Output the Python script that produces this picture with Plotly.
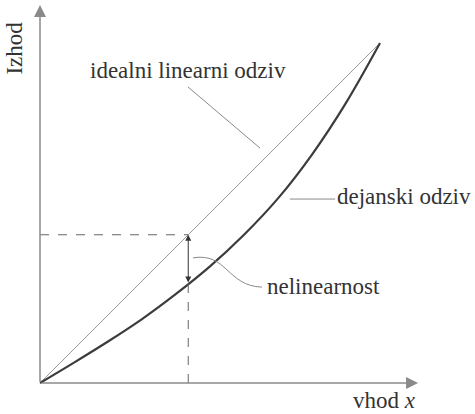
import plotly.graph_objects as go

# Normalised input / output (0..1 on both axes)
x_ideal = [0.0, 1.0]
y_ideal = [0.0, 1.0]

x_actual = [0.0, 0.1, 0.2, 0.3, 0.4, 0.5, 0.6, 0.7, 0.8, 0.9, 1.0]
y_actual = [0.0, 0.06, 0.122, 0.188, 0.262, 0.343, 0.436, 0.543, 0.672, 0.824, 1.0]

# Operating point where the non-linearity is shown
x_op = 0.436
y_op_ideal = 0.436
y_op_actual = 0.291

axis_end = 1.112

labels = {
    "ideal": "idealni linearni odziv",
    "actual": "dejanski odziv",
    "nonlin": "nelinearnost",
    "y": "Izhod",
    "x": "vhod <i>x</i>",
}

AXIS_COL = "#8a8a8a"
FONT = dict(family="Liberation Serif", size=23, color="#333333")

fig = go.Figure()

# ideal linear response
fig.add_trace(go.Scatter(x=x_ideal, y=y_ideal, mode="lines",
                         line=dict(color="#9a9a9a", width=1), hoverinfo="skip"))
# real (non-linear) response
fig.add_trace(go.Scatter(x=x_actual, y=y_actual, mode="lines",
                         line=dict(color="#3c3c3c", width=2.2, shape="spline", smoothing=1.0),
                         hoverinfo="skip"))

# dashed guide lines
fig.add_trace(go.Scatter(x=[0, x_op], y=[y_op_ideal, y_op_ideal], mode="lines",
                         line=dict(color="#666666", width=1, dash="dash"), hoverinfo="skip"))
fig.add_trace(go.Scatter(x=[x_op, x_op], y=[0, y_op_actual], mode="lines",
                         line=dict(color="#666666", width=1, dash="dash"), hoverinfo="skip"))

annotations = []
# axes with arrow heads
annotations.append(dict(x=axis_end, y=0, ax=0, ay=0, xref="x", yref="y", axref="x", ayref="y",
                        text="", showarrow=True, arrowhead=2, arrowsize=1.6, arrowwidth=1.5,
                        arrowcolor=AXIS_COL, standoff=0))
annotations.append(dict(x=0, y=axis_end, ax=0, ay=0, xref="x", yref="y", axref="x", ayref="y",
                        text="", showarrow=True, arrowhead=2, arrowsize=1.6, arrowwidth=1.5,
                        arrowcolor=AXIS_COL, standoff=0))
# double-headed arrow showing the deviation
annotations.append(dict(x=x_op, y=y_op_ideal, ax=x_op, ay=y_op_actual, xref="x", yref="y",
                        axref="x", ayref="y", text="", showarrow=True, arrowhead=2,
                        startarrowhead=2, arrowside="end+start", arrowsize=1.2, startarrowsize=1.2,
                        arrowwidth=1, arrowcolor="#333333", standoff=0, startstandoff=0))

# text labels
annotations += [
    dict(x=0.435, y=0.918, text=labels["ideal"], showarrow=False, xanchor="center", yanchor="middle", font=FONT),
    dict(x=0.868, y=0.548, text=labels["actual"], showarrow=False, xanchor="left", yanchor="middle", font=FONT),
    dict(x=0.662, y=0.285, text=labels["nonlin"], showarrow=False, xanchor="left", yanchor="middle", font=FONT),
    dict(x=-0.075, y=0.985, text=labels["y"], showarrow=False, xanchor="center", yanchor="middle",
         textangle=-90, font=FONT),
    dict(x=1.112, y=-0.05, text=labels["x"], showarrow=False, xanchor="right", yanchor="middle", font=FONT),
]

# leader lines from labels to curves
shapes = [
    dict(type="line", x0=0.435, y0=0.871, x1=0.647, y1=0.691, xref="x", yref="y",
         line=dict(color="#8a8a8a", width=1)),
    dict(type="line", x0=0.735, y0=0.541, x1=0.868, y1=0.541, xref="x", yref="y",
         line=dict(color="#8a8a8a", width=1)),
    dict(type="path", xref="x", yref="y",
         path="M 0.45 0.368 C 0.55 0.385, 0.55 0.285, 0.653 0.282",
         line=dict(color="#8a8a8a", width=1)),
]

fig.update_layout(
    width=475, height=414,
    margin=dict(l=0, r=0, t=0, b=0),
    paper_bgcolor="white", plot_bgcolor="white",
    showlegend=False,
    font=dict(family="Liberation Serif"),
    xaxis=dict(visible=False, range=[-40 / 340, 435 / 340], fixedrange=True),
    yaxis=dict(visible=False, range=[-31 / 340, 383 / 340], fixedrange=True),
    annotations=annotations,
    shapes=shapes,
)

fig.write_html("out.html")
